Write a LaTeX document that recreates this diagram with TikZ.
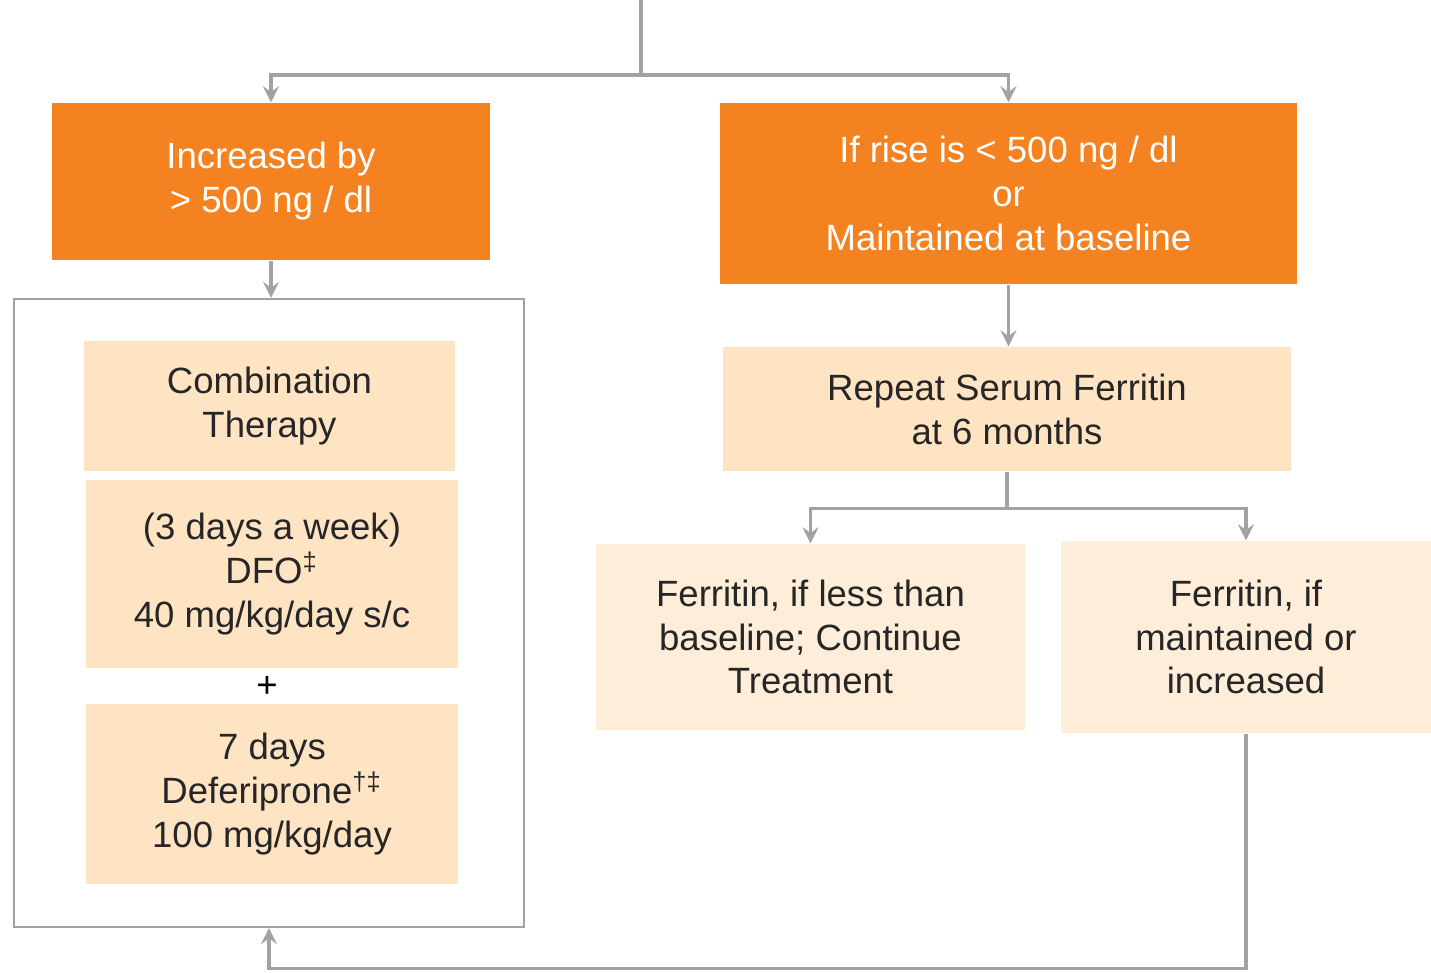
\documentclass[tikz,border=0pt]{standalone}
\usepackage{fontspec}
\setmainfont{Liberation Sans}
\usetikzlibrary{positioning}

\definecolor{chartorange}{RGB}{245,130,32}
\definecolor{peach}{RGB}{255,228,196}
\definecolor{lightpeach}{RGB}{254,237,217}
\definecolor{linegray}{RGB}{160,162,166}

\begin{document}
\begin{tikzpicture}[x=1cm, y=1cm, font=\fontsize{10.4}{12.5}\selectfont]
    % Define styles
    \tikzstyle{decision}=[rectangle, fill=chartorange, text=white, align=center, inner sep=0pt]
    \tikzstyle{therapy}=[rectangle, fill=peach, text=black!85, align=center, inner sep=0pt]
    \tikzstyle{outcome}=[rectangle, fill=lightpeach, text=black!85, align=center, inner sep=0pt]
    \tikzstyle{arrow}=[->, >=stealth, line width=1pt, draw=linegray]
    \tikzstyle{line}=[line width=1pt, draw=linegray]

    \useasboundingbox (0,0) rectangle (14.31,-9.73);

    % Decisions
    \node[decision, minimum width=4.38cm, minimum height=1.57cm] (increased) at (2.71,-1.815) {Increased by\\> 500 ng / dl};
    \node[decision, minimum width=5.77cm, minimum height=1.81cm] (maintained) at (10.085,-1.935) {If rise is < 500 ng / dl\\or\\Maintained at baseline};

    % Combination therapy
    \node[rectangle, draw=linegray, line width=0.6pt, minimum width=5.10cm, minimum height=6.28cm] (combo) at (2.69,-6.13) {};
    \node[therapy, minimum width=3.71cm, minimum height=1.30cm] (combination) at (2.695,-4.06) {Combination\\Therapy};
    \node[therapy, minimum width=3.72cm, minimum height=1.88cm] (dfo) at (2.72,-5.74) {(3 days a week)\\DFO\textsuperscript{‡}\\40 mg/kg/day s/c};
    \node (plus) at (2.67,-6.87) {+};
    \node[therapy, minimum width=3.72cm, minimum height=1.80cm] (deferiprone) at (2.72,-7.94) {7 days\\Deferiprone\textsuperscript{†‡}\\100 mg/kg/day};

    % Follow up
    \node[therapy, minimum width=5.68cm, minimum height=1.24cm] (repeat) at (10.07,-4.09) {Repeat Serum Ferritin\\at 6 months};
    \node[outcome, minimum width=4.29cm, minimum height=1.86cm] (lower) at (8.105,-6.37) {Ferritin, if less than\\baseline; Continue\\Treatment};
    \node[outcome, minimum width=3.70cm, minimum height=1.92cm] (higher) at (12.46,-6.37) {Ferritin, if\\maintained or\\increased};

    % Connections
    \coordinate (top) at (6.41,0);
    \coordinate (split) at (6.41,-0.75);
    \draw[line] (top) -- (split);
    \draw[arrow] (split) -| (increased);
    \draw[arrow] (split) -| (maintained);
    \draw[arrow] (increased.south) -- (increased.south |- combo.north);
    \draw[arrow] (maintained.south) -- (maintained.south |- repeat.north);
    \draw[arrow] (repeat.south) -- ++(0,-0.37) -| (lower);
    \draw[arrow] (repeat.south) -- ++(0,-0.37) -| (higher);
    \draw[arrow] (higher.south) -- ++(0,-2.35) -| (combo.south);
\end{tikzpicture}
\end{document}
